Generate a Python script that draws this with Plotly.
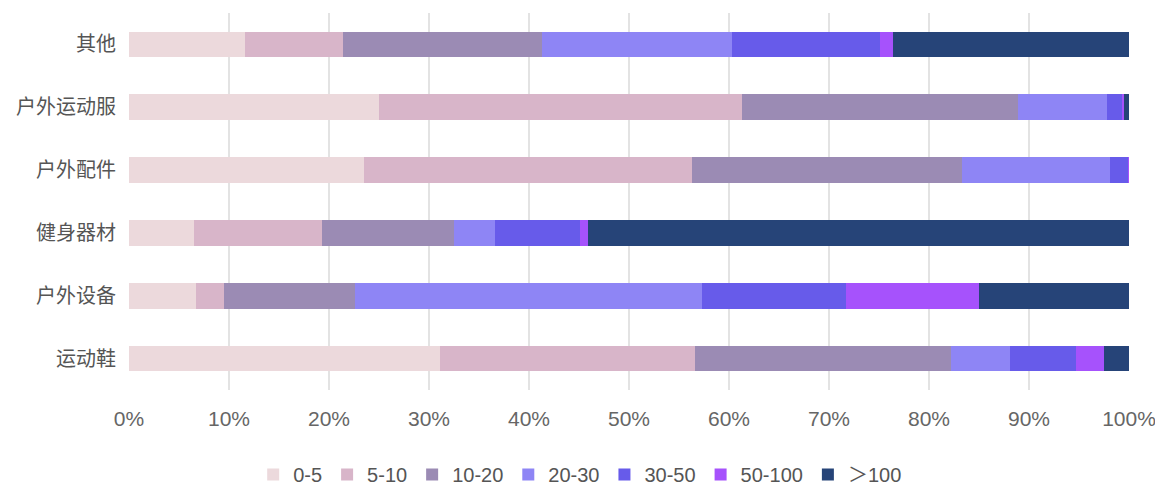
import plotly.graph_objects as go

categories = ["其他", "户外运动服", "户外配件", "健身器材", "户外设备", "运动鞋"]
series_names = ["0-5", "5-10", "10-20", "20-30", "30-50", "50-100", "＞100"]
colors = ["#ecd9dc", "#d8b5c9", "#9b8bb4", "#8e85f5", "#675bea", "#a652fc", "#264478"]
tick_values = [0, 10, 20, 30, 40, 50, 60, 70, 80, 90, 100]
tick_labels = ["0%", "10%", "20%", "30%", "40%", "50%", "60%", "70%", "80%", "90%", "100%"]

s_0_5 = [11.6, 25.0, 23.5, 6.5, 6.7, 31.1]
s_5_10 = [9.75, 36.3, 32.8, 12.8, 2.8, 25.5]
s_10_20 = [19.95, 27.6, 27.0, 13.2, 13.1, 25.6]
s_20_30 = [19.0, 8.9, 14.8, 4.1, 34.7, 5.9]
s_30_50 = [14.8, 1.5, 1.8, 8.5, 14.4, 6.6]
s_50_100 = [1.3, 0.2, 0.1, 0.8, 13.3, 2.8]
s_100 = [23.6, 0.5, 0.0, 54.1, 15.0, 2.5]

all_series = [s_0_5, s_5_10, s_10_20, s_20_30, s_30_50, s_50_100, s_100]

fig = go.Figure()
for name, vals, col in zip(series_names, all_series, colors):
    fig.add_trace(go.Bar(
        y=categories, x=vals, name=name, orientation="h",
        marker=dict(color=col, line=dict(width=0)),
    ))

font_family = "Liberation Sans, Noto Sans CJK SC, sans-serif"
fig.update_layout(
    barmode="stack",
    bargap=0.59,
    width=1163, height=486,
    margin=dict(l=121, r=42, t=5, b=104),
    paper_bgcolor="white", plot_bgcolor="white",
    font=dict(family=font_family, color="#555555"),
    showlegend=True,
    legend=dict(
        orientation="h", xref="container", x=0.492, xanchor="center",
        yref="container", y=-0.006, yanchor="bottom",
        font=dict(size=20, color="#555555"),
        traceorder="normal",
    ),
    xaxis=dict(
        range=[0, 100], tickmode="array", tickvals=tick_values, ticktext=tick_labels,
        showgrid=True, gridcolor="#e3e3e3", gridwidth=1.5,
        zeroline=False, tickfont=dict(size=21, color="#666666"), ticks="",
        ticklabelstandoff=14, automargin=False,
    ),
    yaxis=dict(
        autorange="reversed", tickfont=dict(size=20, color="#555555"),
        ticks="", showgrid=False, ticklabelstandoff=12, automargin=False,
    ),
)

fig.write_html("out.html")
